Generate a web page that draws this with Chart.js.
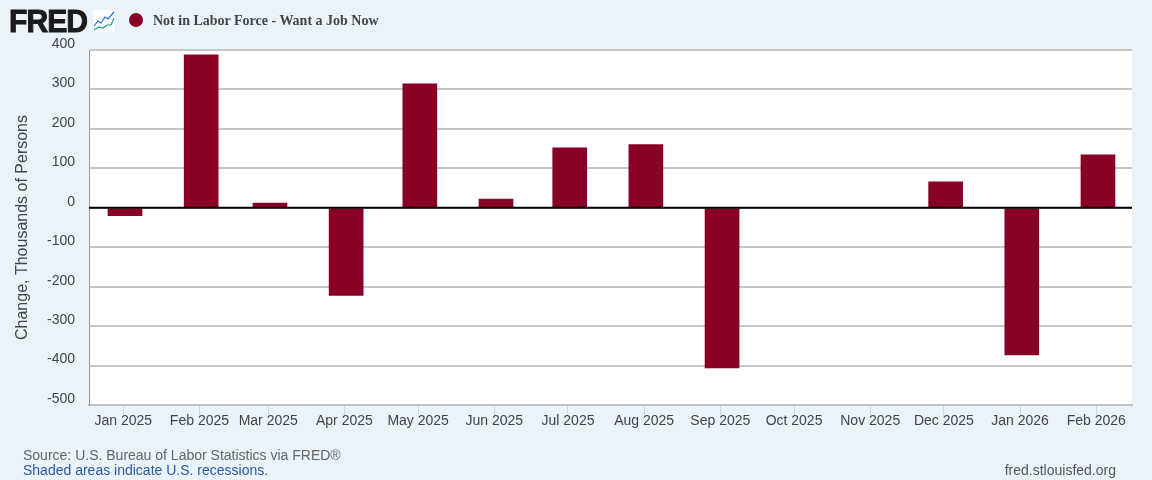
<!DOCTYPE html>
<html>
<head>
<meta charset="utf-8">
<script src="https://cdn.jsdelivr.net/npm/chart.js@4"></script>
<style>
  html, body { margin: 0; padding: 0; background: #eaf2fa; }
  #wrap { position: relative; width: 1152px; height: 480px; overflow: hidden; font-family: "Liberation Sans", Arial, sans-serif; }
  #c { position: absolute; left: 0; top: 0; }
  .abs { position: absolute; white-space: nowrap; }
  #logo { left: 9px; top: 3px; font-size: 32px; line-height: 36px; font-weight: 700; color: #1a1a1a; letter-spacing: -1px; -webkit-text-stroke: 1px #1a1a1a; transform: scaleX(0.94); transform-origin: left top; }
  #icon { left: 93px; top: 10px; }
  #dot { left: 129px; top: 13px; width: 14px; height: 14px; border-radius: 50%; background: #880025; }
  #legend { left: 153px; top: 13px; font: bold 14px/16px "Liberation Serif", serif; color: #444; }
  #source { left: 23px; top: 447px; font-size: 14px; line-height: 16px; color: #666; }
  #shaded { left: 23px; top: 462px; font-size: 14px; line-height: 16px; color: #2a5a9e; }
  #site { right: 36px; top: 462px; font-size: 14px; line-height: 16px; color: #555; }
</style>
</head>
<body>
<div id="wrap">
  <canvas id="c" width="1152" height="480"></canvas>
  <div class="abs" id="logo">FRED</div>
  <svg class="abs" id="icon" width="22" height="22" viewBox="0 0 22 22">
    <rect width="22" height="22" rx="2" fill="#fff"/>
    <polyline points="1,16 5,11 8,13 12,7 15,9 21,2" fill="none" stroke="#1a73e8" stroke-width="1.2"/>
    <polyline points="1,20 6,17 10,18 14,15 18,15 21,8" fill="none" stroke="#1a9e8f" stroke-width="1.2"/>
  </svg>
  <div class="abs" id="dot"></div>
  <div class="abs" id="legend"></div>
  <div class="abs" id="source">Source: U.S. Bureau of Labor Statistics via FRED®</div>
  <div class="abs" id="shaded">Shaded areas indicate U.S. recessions.</div>
  <div class="abs" id="site">fred.stlouisfed.org</div>
</div>
<script>
const seriesName = 'Not in Labor Force - Want a Job Now';
const months = ['Jan 2025','Feb 2025','Mar 2025','Apr 2025','May 2025','Jun 2025','Jul 2025','Aug 2025','Sep 2025','Oct 2025','Nov 2025','Dec 2025','Jan 2026','Feb 2026'];
// days since 1 Jan 2025, the axis is a time axis so months are not evenly spaced
const dayOffsets = [0,31,59,90,120,151,181,212,243,273,304,334,365,396];
const changes = [-20,388,12,-222,314,22,152,160,-406,null,null,66,-373,134];
const yTicks = [400,300,200,100,0,-100,-200,-300,-400,-500];
// the ticks sit a little left of the bar centres in the original
const tickShift = -0.7;

document.getElementById('legend').textContent = seriesName;

const zeroLine = {
  id: 'zeroLine',
  afterDatasetsDraw(chart) {
    const { ctx, chartArea, scales } = chart;
    const y = scales.y.getPixelForValue(0);
    ctx.save();
    ctx.strokeStyle = '#000';
    ctx.lineWidth = 2;
    ctx.beginPath();
    ctx.moveTo(chartArea.left, y);
    ctx.lineTo(chartArea.right, y);
    ctx.stroke();
    ctx.restore();
  }
};

const plotBg = {
  id: 'plotBg',
  beforeDraw(chart) {
    const { ctx, chartArea: a } = chart;
    ctx.save();
    ctx.fillStyle = '#fff';
    ctx.fillRect(a.left, a.top, a.right - a.left, a.bottom - a.top);
    ctx.restore();
  }
};

new Chart(document.getElementById('c'), {
  type: 'bar',
  data: {
    datasets: [{
      label: seriesName,
      data: dayOffsets.map((d, i) => ({ x: d, y: changes[i] })),
      backgroundColor: '#880025',
      barThickness: 34
    }]
  },
  options: {
    responsive: false,
    animation: false,
    devicePixelRatio: 1,
    layout: { padding: { top: 50, right: 20, left: 0, bottom: 0 } },
    plugins: { legend: { display: false }, tooltip: { enabled: false } },
    scales: {
      x: {
        type: 'linear',
        min: -14.65,
        max: 409.85,
        offset: false,
        afterFit: s => { s.height = 75; },
        afterBuildTicks: s => { s.ticks = dayOffsets.map(v => ({ value: v + tickShift })); },
        grid: { offset: false, drawOnChartArea: false, color: '#ccd6eb', lineWidth: 1, tickLength: 10 },
        border: { color: '#c0c0c8', width: 2 },
        ticks: {
          autoSkip: false, maxRotation: 0, minRotation: 0, padding: -2,
          color: '#444', font: { family: '"Liberation Sans"', size: 14 },
          callback: (v, i) => months[i]
        }
      },
      y: {
        min: -500,
        max: 400,
        afterFit: s => { s.width = 89; },
        afterBuildTicks: s => { s.ticks = yTicks.map(v => ({ value: v })); },
        grid: { color: '#c6c6c6', lineWidth: 2, drawTicks: false },
        border: { color: '#999', width: 1 },
        title: {
          display: true, text: 'Change, Thousands of Persons', color: '#444',
          font: { family: '"Liberation Sans"', size: 16 }, padding: { top: 13, bottom: 0 }
        },
        ticks: {
          padding: 14, labelOffset: -6, color: '#444',
          font: { family: '"Liberation Sans"', size: 14 }
        }
      }
    }
  },
  plugins: [plotBg, zeroLine]
});
</script>
</body>
</html>
